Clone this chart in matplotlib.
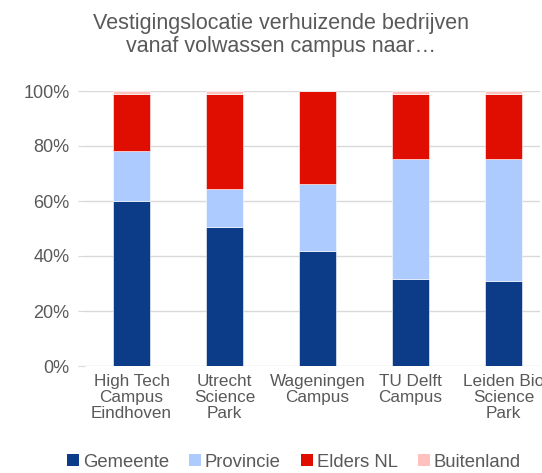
import numpy as np
import matplotlib.pyplot as plt
from matplotlib.patches import Patch

plt.rcParams['font.family'] = ['Liberation Sans', 'DejaVu Sans']

campussen = ['High Tech\nCampus\nEindhoven', 'Utrecht\nScience\nPark', 'Wageningen\nCampus',
             'TU Delft\nCampus', 'Leiden Bio\nScience\nPark']
gemeente = [60.0, 50.4, 41.8, 31.5, 30.8]
provincie = [18.0, 13.9, 24.2, 43.8, 44.3]
elders_nl = [21.0, 34.7, 34.0, 23.7, 23.9]
buitenland = [1.0, 1.0, 0.0, 1.0, 1.0]

reeksen = ['Gemeente', 'Provincie', 'Elders NL', 'Buitenland']
kleuren = ['#0C3B87', '#ADCBFE', '#E00E00', '#FFC2BE']
tekst = '#595959'

fig = plt.figure(figsize=(5.42, 4.73), dpi=100)
ax = fig.add_axes([85/542, 1 - 366/473, 455/542, 275/473])

x = np.arange(len(campussen))
onder = np.zeros(len(campussen))
for naam, waarden, kleur in zip(reeksen, [gemeente, provincie, elders_nl, buitenland], kleuren):
    ax.bar(x, waarden, 0.4, bottom=onder, color=kleur, edgecolor='white', linewidth=0.4,
           label=naam, zorder=3)
    onder += np.array(waarden)

ax.set_ylim(0, 100)
ax.set_xlim(-0.5, -0.5 + 455/93)
ax.set_yticks(range(0, 101, 20))
ax.set_yticklabels([f'{v}%' for v in range(0, 101, 20)])
ax.yaxis.grid(True, color='#D9D9D9', linewidth=1, zorder=0)
ax.set_xticks(x)
ax.set_xticklabels(campussen, linespacing=1.08)
ax.tick_params(axis='x', length=0, pad=6, labelsize=12.3, labelcolor=tekst)
ax.tick_params(axis='y', length=5, color='#D9D9D9', pad=6, labelsize=13, labelcolor=tekst)
for s in ax.spines.values():
    s.set_visible(False)

ax.set_title('Vestigingslocatie verhuizende bedrijven\nvanaf volwassen campus naar…',
             fontsize=15.5, color=tekst, pad=28, x=(281 - 85)/455, linespacing=1.13)

handles = [Patch(facecolor=k, label=n) for n, k in zip(reeksen, kleuren)]
fig.legend(handles=handles, loc='center', bbox_to_anchor=(294/542, 1 - 462/473), ncol=4,
           frameon=False, fontsize=13.3, handlelength=0.65, handleheight=0.65,
           handletextpad=0.2, columnspacing=1.1, labelcolor=tekst)

fig.savefig('out.png', dpi=100)
